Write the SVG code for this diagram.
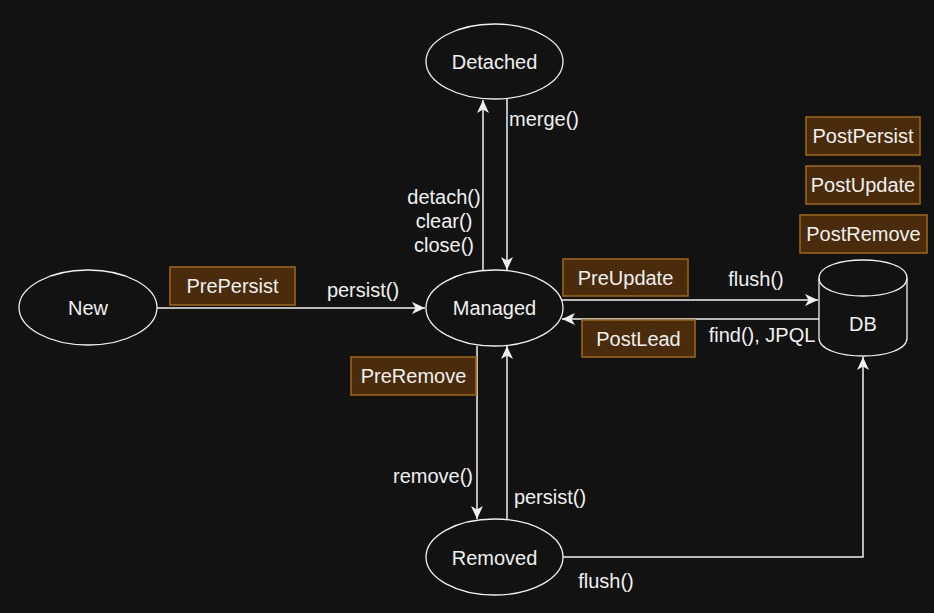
<svg xmlns="http://www.w3.org/2000/svg" width="934" height="613" viewBox="0 0 934 613">
<defs>
<style>
text{font-family:"Liberation Sans",Helvetica,Arial,sans-serif;font-size:20px;fill:#f0f0f0}
.m{text-anchor:middle}
.node{fill:#121212;stroke:#f0f0f0;stroke-width:1.3}
.box{fill:#4a2b0c;stroke:#a2680f;stroke-width:1.5}
.edge{fill:none;stroke:#f0f0f0;stroke-width:1.5}
</style>
<marker id="arr" markerUnits="userSpaceOnUse" markerWidth="14" markerHeight="12" viewBox="0 0 14 12" refX="13" refY="6" orient="auto">
<path d="M0,0 L13,6 L0,12 L3.5,6 Z" fill="#f0f0f0"/>
</marker>
</defs>
<rect x="0" y="0" width="934" height="613" fill="#121212"/>

<g id="connectors">
<path class="edge" d="M157,308 L425,308" marker-end="url(#arr)"/>
<path class="edge" d="M483,270 L483,100" marker-end="url(#arr)"/>
<path class="edge" d="M507,99 L507,270" marker-end="url(#arr)"/>
<path class="edge" d="M477,346 L477,519" marker-end="url(#arr)"/>
<path class="edge" d="M507,519 L507,346" marker-end="url(#arr)"/>
<path class="edge" d="M562,300 L818,300" marker-end="url(#arr)"/>
<path class="edge" d="M819,319 L562,319" marker-end="url(#arr)"/>
<path class="edge" d="M563,557 L863,557 L863,357" marker-end="url(#arr)"/>
<text x="363" y="297" class="m">persist()</text>
<text x="444" y="204" class="m">detach()</text>
<text x="444" y="228" class="m">clear()</text>
<text x="444" y="252" class="m">close()</text>
<text x="509" y="126">merge()</text>
<text x="756" y="286" class="m">flush()</text>
<text x="762" y="342" class="m">find(), JPQL</text>
<text x="433" y="483" class="m">remove()</text>
<text x="550" y="504" class="m">persist()</text>
<text x="606" y="588" class="m">flush()</text>
</g>

<g id="new"><ellipse class="node" cx="88" cy="307.5" rx="69" ry="37.5"/><text x="88" y="315" class="m">New</text></g>
<g id="managed"><ellipse class="node" cx="494.5" cy="308" rx="68.5" ry="38"/><text x="494.5" y="315" class="m">Managed</text></g>
<g id="detached"><ellipse class="node" cx="494.5" cy="61.5" rx="68.5" ry="37.5"/><text x="494.5" y="68.5" class="m">Detached</text></g>
<g id="removed"><ellipse class="node" cx="494.5" cy="557" rx="68.5" ry="38"/><text x="494.5" y="565" class="m">Removed</text></g>
<g id="db">
<path class="node" d="M819,278 C819,254 907,254 907,278 L907,338 C907,362 819,362 819,338 Z"/>
<path class="node" style="fill:none" d="M819,278 C819,302 907,302 907,278"/>
<text x="863" y="331" class="m">DB</text>
</g>

<g id="prePersist"><rect class="box" x="170" y="267" width="125" height="38"/><text x="232.5" y="293" class="m">PrePersist</text></g>
<g id="preUpdate"><rect class="box" x="563" y="259" width="125" height="37"/><text x="625.5" y="285" class="m">PreUpdate</text></g>
<g id="postLead"><rect class="box" x="582" y="320" width="113" height="37"/><text x="638.5" y="346" class="m">PostLead</text></g>
<g id="preRemove"><rect class="box" x="351" y="357" width="125" height="38"/><text x="413.5" y="383" class="m">PreRemove</text></g>
<g id="postPersist"><rect class="box" x="806" y="117" width="114" height="38"/><text x="863" y="143" class="m">PostPersist</text></g>
<g id="postUpdate"><rect class="box" x="806" y="166" width="114" height="38"/><text x="863" y="192" class="m">PostUpdate</text></g>
<g id="postRemove"><rect class="box" x="800" y="215" width="127" height="38"/><text x="863.5" y="241" class="m">PostRemove</text></g>
</svg>
